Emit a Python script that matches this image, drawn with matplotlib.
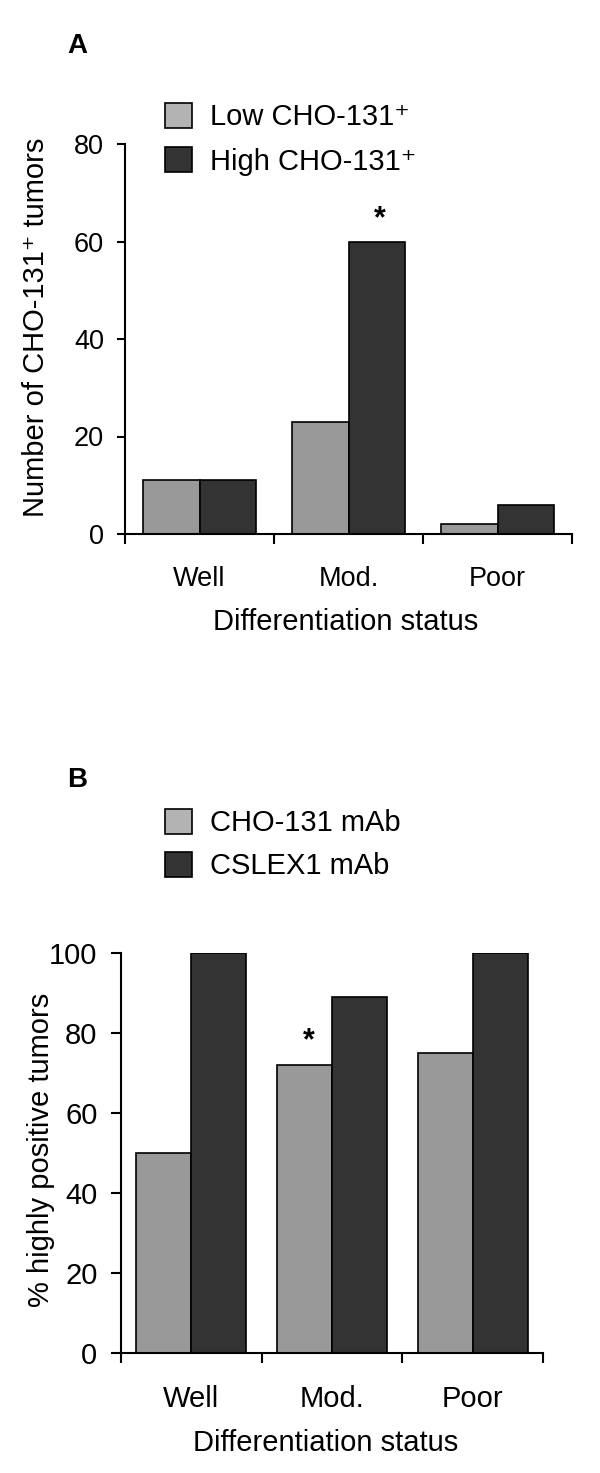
import numpy as np
import matplotlib.pyplot as plt
from matplotlib.patches import Patch

plt.rcParams['font.family'] = ['Liberation Sans', 'DejaVu Sans']

# data
categories = ['Well', 'Mod.', 'Poor']
low_a = [11, 23, 2]
high_a = [11, 60, 6]
cho131_b = [50, 72, 75]
cslex1_b = [100, 89, 100]

light = '#999999'
dark = '#333333'

fig = plt.figure(figsize=(6, 14.73), dpi=100)

#Panel A
ax1 = fig.add_axes([125/600, 1-534/1473, 447/600, 390/1473])
x = np.arange(len(categories))
w = 0.38
ax1.bar(x - w/2, low_a, w, color=light, edgecolor='black', linewidth=1.2)
ax1.bar(x + w/2, high_a, w, color=dark, edgecolor='black', linewidth=1.2)
ax1.set_xlim(-0.5, 2.5)
ax1.set_ylim(0, 80)
ax1.set_yticks([0, 20, 40, 60, 80])
ax1.annotate('*', (x[1] + w/2, high_a[1]), xytext=(2, 5), textcoords='offset points',
             ha='center', va='bottom', fontsize=22, fontweight='bold')
ax1.set_ylabel('Number of CHO-131\u207a tumors', fontsize=21, va='center')
ax1.yaxis.set_label_coords(-0.199, 0.53)
ax1.set_xlabel('Differentiation status', fontsize=21, va='top')
ax1.xaxis.set_label_coords(0.494, -0.19)
ax1.tick_params(axis='y', labelsize=19.5, length=6, width=1.5, pad=9)

leg1 = [Patch(facecolor='#b3b3b3', edgecolor='black', linewidth=1.2),
        Patch(facecolor=dark, edgecolor='black', linewidth=1.2)]
fig.legend(leg1, ['Low CHO-131\u207a', 'High CHO-131\u207a'],
           loc='upper left', bbox_to_anchor=(150/600, 1-88/1473),
           frameon=False, fontsize=21, handlelength=0.95, handleheight=0.95,
           handletextpad=0.6, labelspacing=0.55, borderpad=0)

#Panel B
ax2 = fig.add_axes([121/600, 1-1353/1473, 422/600, 400/1473])
w2 = 0.39
ax2.bar(x - w2/2, cho131_b, w2, color=light, edgecolor='black', linewidth=1.2)
ax2.bar(x + w2/2, cslex1_b, w2, color=dark, edgecolor='black', linewidth=1.2)
ax2.set_xlim(-0.5, 2.5)
ax2.set_ylim(0, 100)
ax2.set_yticks([0, 20, 40, 60, 80, 100])
ax2.annotate('*', (x[1] - w2/2, cho131_b[1]), xytext=(3, 6), textcoords='offset points',
             ha='center', va='bottom', fontsize=22, fontweight='bold')
ax2.set_ylabel('% highly positive tumors', fontsize=21, va='center')
ax2.yaxis.set_label_coords(-0.19, 0.507)
ax2.set_xlabel('Differentiation status', fontsize=21, va='top')
ax2.xaxis.set_label_coords(0.486, -0.19)
ax2.tick_params(axis='y', labelsize=21, length=7, width=1.5, pad=10)

leg2 = [Patch(facecolor='#b3b3b3', edgecolor='black', linewidth=1.2),
        Patch(facecolor=dark, edgecolor='black', linewidth=1.2)]
fig.legend(leg2, ['CHO-131 mAb', 'CSLEX1 mAb'],
           loc='upper left', bbox_to_anchor=(150/600, 1-794/1473),
           frameon=False, fontsize=21, handlelength=0.95, handleheight=0.95,
           handletextpad=0.6, labelspacing=0.5, borderpad=0)

for ax, lab_size in [(ax1, 19.5), (ax2, 21)]:
    ax.spines['top'].set_visible(False)
    ax.spines['right'].set_visible(False)
    ax.spines['left'].set_linewidth(1.5)
    ax.spines['bottom'].set_linewidth(1.5)
    ax.set_xticks(x)
    ax.set_xticklabels(categories)
    ax.set_xticks([-0.5, 0.5, 1.5, 2.5], minor=True)
    ax.tick_params(axis='x', which='major', length=0, labelsize=lab_size, pad=23)
    ax.tick_params(axis='x', which='minor', length=7, width=1.5)

fig.text(67/600, 1-53/1473, 'A', fontsize=20, fontweight='bold', va='baseline')
fig.text(67/600, 1-787/1473, 'B', fontsize=20, fontweight='bold', va='baseline')

fig.savefig('out.png', dpi=100)
